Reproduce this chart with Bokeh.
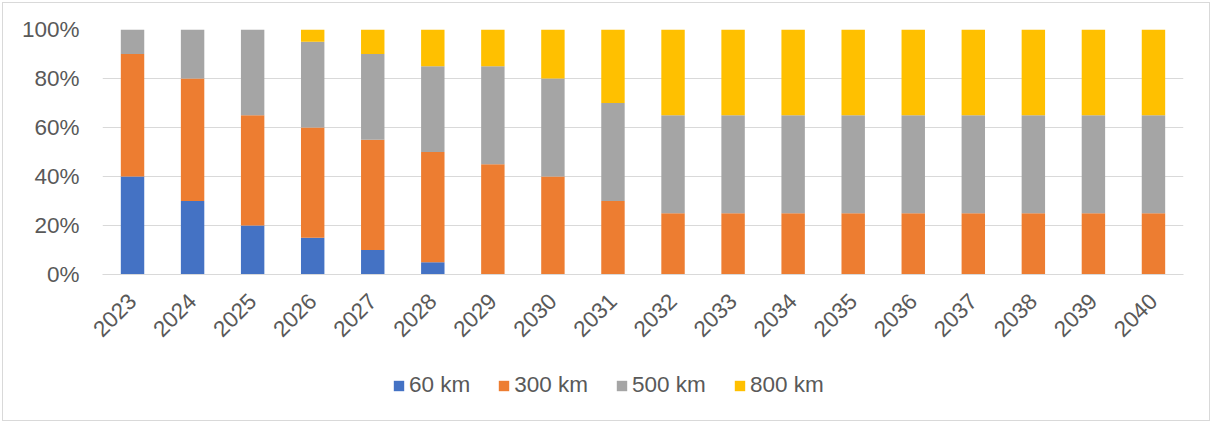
from bokeh.plotting import figure
from bokeh.layouts import column
from bokeh.models import Legend, LegendItem, FixedTicker, NumeralTickFormatter, FactorRange, Range1d
from bokeh.embed import file_html
from bokeh.resources import INLINE
from math import pi

years = [str(y) for y in range(2023, 2041)]
km60 = [0.40, 0.30, 0.20, 0.15, 0.10, 0.05, 0, 0, 0, 0, 0, 0, 0, 0, 0, 0, 0, 0]
km300 = [0.50, 0.50, 0.45, 0.45, 0.45, 0.45, 0.45, 0.40, 0.30, 0.25, 0.25, 0.25, 0.25, 0.25, 0.25, 0.25, 0.25, 0.25]
km500 = [0.10, 0.20, 0.35, 0.35, 0.35, 0.35, 0.40, 0.40, 0.40, 0.40, 0.40, 0.40, 0.40, 0.40, 0.40, 0.40, 0.40, 0.40]
km800 = [0, 0, 0, 0.05, 0.10, 0.15, 0.15, 0.20, 0.30, 0.35, 0.35, 0.35, 0.35, 0.35, 0.35, 0.35, 0.35, 0.35]
series = ["60 km", "300 km", "500 km", "800 km"]
colors = ["#4472C4", "#ED7D31", "#A5A5A5", "#FFC000"]
y_ticks = [0, 0.2, 0.4, 0.6, 0.8, 1.0]

data = {"year": years, "60 km": km60, "300 km": km300, "500 km": km500, "800 km": km800}

FONT = "Liberation Sans"
FS = "22.5px"
TXT = "#595959"
GRID = "#d9d9d9"
W = 1212
H_MAIN = 354
H_LEG = 69

# main chart
p = figure(x_range=FactorRange(*years), y_range=Range1d(0, 1),
           width=W, height=H_MAIN, output_backend="svg", toolbar_location=None,
           min_border_left=102, min_border_right=29, min_border_top=29,
           min_border_bottom=H_MAIN - 274)
p.outline_line_color = None
p.border_fill_color = None
p.background_fill_color = None

p.vbar_stack(series, x="year", width=0.39, color=colors, line_color=None, source=data)

p.xgrid.grid_line_color = None
p.ygrid.grid_line_color = GRID
p.ygrid.grid_line_width = 1
p.yaxis.ticker = FixedTicker(ticks=y_ticks)
p.yaxis.formatter = NumeralTickFormatter(format="0%")
p.yaxis.axis_line_color = None
p.yaxis.major_tick_line_color = None
p.yaxis.minor_tick_line_color = None
p.yaxis.major_tick_out = 0
p.yaxis.major_label_standoff = 23
p.yaxis.major_label_text_font = FONT
p.yaxis.major_label_text_font_size = FS
p.yaxis.major_label_text_color = TXT

p.xaxis.axis_line_color = GRID
p.xaxis.major_tick_line_color = None
p.xaxis.minor_tick_line_color = None
p.xaxis.major_tick_out = 0
p.xaxis.major_label_orientation = pi / 4
p.xaxis.major_label_standoff = 23
p.xaxis.major_label_text_font = FONT
p.xaxis.major_label_text_font_size = FS
p.xaxis.major_label_text_color = TXT

# legend strip (same series, drawn outside its visible range, only to key the legend)
pl = figure(x_range=FactorRange(*years), y_range=Range1d(2, 3),
            width=W, height=H_LEG, output_backend="svg", toolbar_location=None,
            x_axis_location=None, y_axis_location=None, min_border=0)
pl.outline_line_color = None
pl.border_fill_color = None
pl.background_fill_color = None
pl.xgrid.grid_line_color = None
pl.ygrid.grid_line_color = None
leg_r = pl.vbar_stack(series, x="year", width=0.39, color=colors, line_color=None, source=data)

legend = Legend(items=[LegendItem(label=s, renderers=[r]) for s, r in zip(series, leg_r)],
                orientation="horizontal", location=(290, 25),
                glyph_width=13, glyph_height=13, label_standoff=4, spacing=27,
                padding=0, margin=0, border_line_color=None, background_fill_alpha=0,
                label_text_font=FONT, label_text_font_size=FS, label_text_color=TXT)
pl.add_layout(legend, "center")

layout = column(p, pl, spacing=0)
layout.styles = {"box-shadow": "inset 0 0 0 2px #ffffff, inset 0 0 0 3px #d9d9d9"}

open("out.html", "w").write(file_html(layout, INLINE))
